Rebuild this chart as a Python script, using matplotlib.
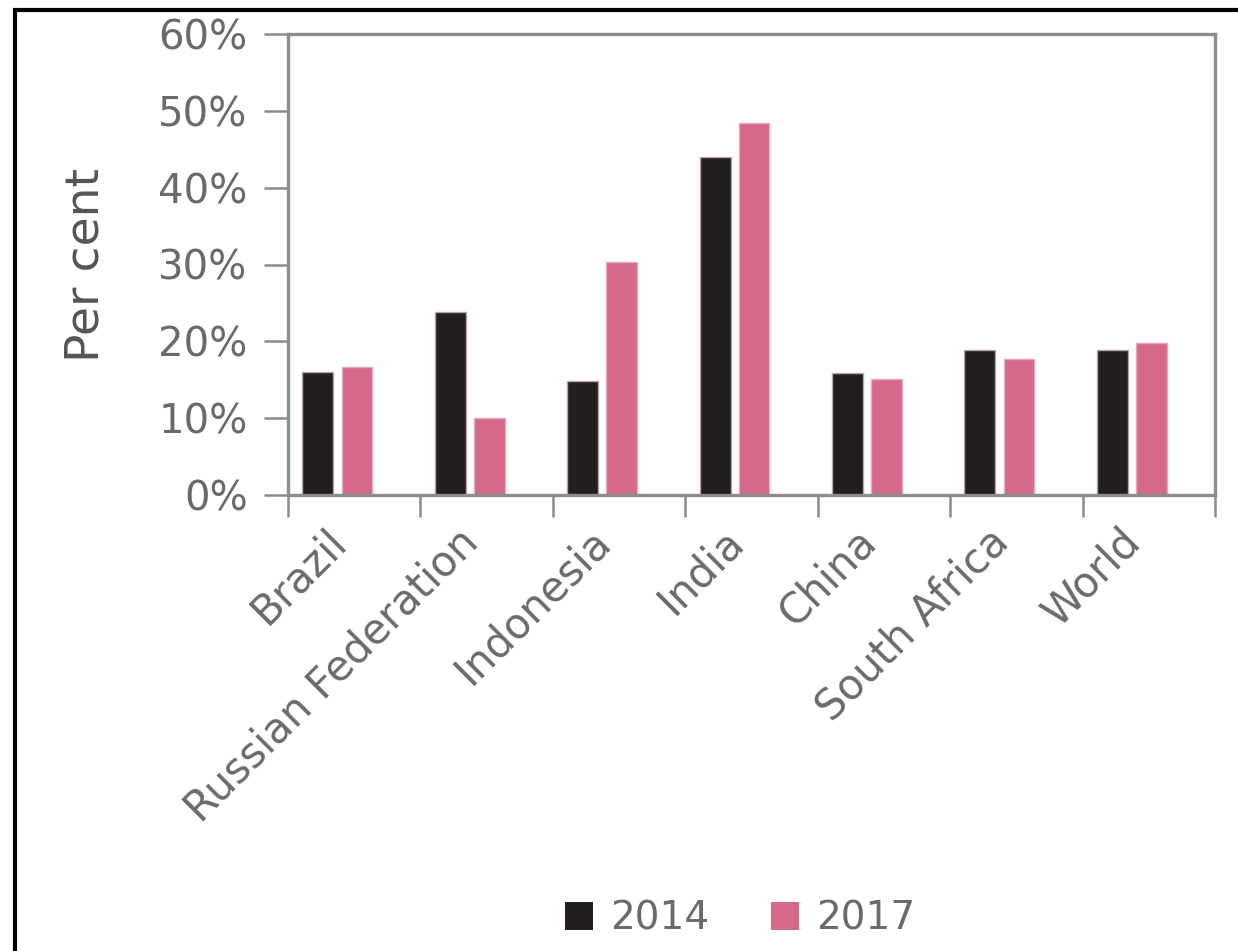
import matplotlib
matplotlib.use("Agg")
import matplotlib.pyplot as plt
from matplotlib.patches import Rectangle, Patch
import numpy as np

# data
countries = ['Brazil', 'Russian Federation', 'Indonesia', 'India',
             'China', 'South Africa', 'World']
share_2014 = [16.0, 23.8, 14.8, 44.0, 15.9, 18.9, 18.9]
share_2017 = [16.7, 10.0, 30.3, 48.4, 15.1, 17.7, 19.8]
years = ['2014', '2017']
yticks = [0, 10, 20, 30, 40, 50, 60]

black = '#231f20'
pink = '#d4698a'
axis_grey = '#8c8c8c'
text_grey = '#6a6a6a'

fig = plt.figure(figsize=(12.38, 9.51), dpi=100)
ax = fig.add_axes([288 / 1238, 1 - 495 / 951, (1215 - 288) / 1238, (495 - 34) / 951])

x = np.arange(len(countries))
ax.bar(x + 0.225, share_2014, width=0.235, color=black, edgecolor='#b9a3a8', linewidth=1.0)
ax.bar(x + 0.52, share_2017, width=0.23, color=pink, edgecolor='#e9a9bd', linewidth=1.0)

ax.set_xlim(0, len(countries))
ax.set_ylim(0, 60)

# group boundaries as major ticks, country names on minor ticks
ax.set_xticks(np.arange(len(countries) + 1))
ax.set_xticklabels([])
ax.set_xticks(x + 0.39, minor=True)
ax.set_xticklabels(countries, minor=True, rotation=45, ha='right', va='center',
                   rotation_mode='anchor', fontsize=30, color=text_grey)
ax.tick_params(axis='x', which='minor', length=0, pad=29)
ax.tick_params(axis='x', which='major', length=16, width=1.8, color=axis_grey, direction='out')

ax.set_yticks(yticks)
ax.set_yticklabels([f'{v}%' for v in yticks], fontsize=29, color=text_grey)
ax.tick_params(axis='y', length=17, width=1.8, color=axis_grey, direction='out', pad=12)

for s in ax.spines.values():
    s.set_color(axis_grey)
    s.set_linewidth(2.4)

ax.set_ylabel('Per cent', fontsize=34, color='#555555', labelpad=36)

handles = [Patch(facecolor=black), Patch(facecolor=pink)]
fig.legend(handles, years, loc='center', bbox_to_anchor=(0.598, 0.034), ncol=2,
           frameon=False, fontsize=28, handlelength=0.7, handleheight=0.72,
           handletextpad=0.45, columnspacing=1.6, labelcolor=text_grey)

# black frame around the picture
fig.patches.append(Rectangle((15 / 1238, -0.1), 1.2, 1.1 - 10 / 951, transform=fig.transFigure,
                             fill=False, edgecolor='black', linewidth=3, zorder=10))

fig.savefig('out.png', dpi=100)
